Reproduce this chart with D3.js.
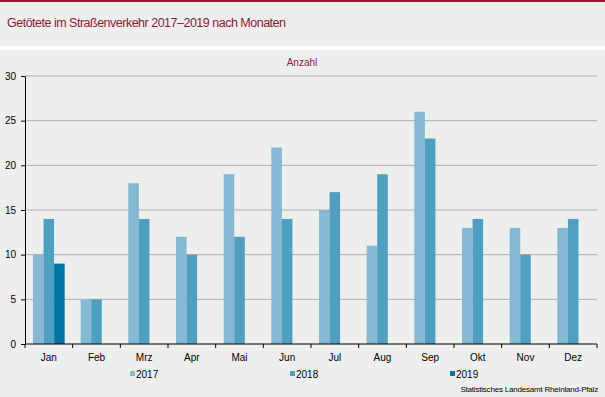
<!DOCTYPE html>
<html>
<head>
<meta charset="utf-8">
<script src="https://cdn.jsdelivr.net/npm/d3@7"></script>
<style>
  body { margin: 0; background: #fff; }
  svg { display: block; font-family: "Liberation Sans", Arial, sans-serif; }
</style>
</head>
<body>
<script>
// chart data
var months = ["Jan", "Feb", "Mrz", "Apr", "Mai", "Jun", "Jul", "Aug", "Sep", "Okt", "Nov", "Dez"];
var years = ["2017", "2018", "2019"];
var values2017 = [10, 5, 18, 12, 19, 22, 15, 11, 26, 13, 13, 13];
var values2018 = [14, 5, 14, 10, 12, 14, 17, 19, 23, 14, 10, 14];
var values2019 = [9, null, null, null, null, null, null, null, null, null, null, null];
var yTicks = [0, 5, 10, 15, 20, 25, 30];

var colors = ["#84b8d3", "#4f9fc1", "#0074a3"];
var series = [values2017, values2018, values2019];

var svgWidth = 605;
var svgHeight = 397;

var margin = { top: 76, right: 8, bottom: 53, left: 25 };
var width = svgWidth - margin.left - margin.right;
var height = svgHeight - margin.top - margin.bottom;

var svg = d3.select("body")
  .append("svg")
  .attr("width", svgWidth)
  .attr("height", svgHeight);

// backgrounds
svg.append("rect").attr("x", 0).attr("y", 0).attr("width", svgWidth).attr("height", 46).attr("fill", "#edeeed");
svg.append("rect").attr("x", 0).attr("y", 0).attr("width", svgWidth).attr("height", 2).attr("fill", "#8b1a32");
svg.append("rect").attr("x", 0).attr("y", 50).attr("width", svgWidth).attr("height", svgHeight - 50).attr("fill", "#edefee");

svg.append("text")
  .attr("x", 7)
  .attr("y", 27)
  .style("font-size", "12.5px")
  .style("letter-spacing", "-0.5px")
  .style("fill", "#8b1a32")
  .text("Getötete im Straßenverkehr 2017–2019 nach Monaten");

svg.append("text")
  .attr("x", 302)
  .attr("y", 66)
  .attr("text-anchor", "middle")
  .style("font-size", "10px")
  .style("fill", "#8b1a42")
  .text("Anzahl");

var chartGroup = svg.append("g")
  .attr("transform", `translate(${margin.left}, ${margin.top})`);

var xBand = d3.scaleBand()
  .domain(months)
  .range([0, width]);

var xInner = d3.scaleBand()
  .domain(years)
  .range([8, xBand.bandwidth() - 8]);

var yLinearScale = d3.scaleLinear()
  .domain([0, 30])
  .range([height, 0]);

// gridlines
chartGroup.selectAll(".grid")
  .data(yTicks.slice(1))
  .enter()
  .append("line")
  .attr("x1", 0)
  .attr("x2", width)
  .attr("y1", d => yLinearScale(d))
  .attr("y2", d => yLinearScale(d))
  .attr("stroke", "#aeaeae")
  .attr("stroke-width", 1);

// bars
series.forEach(function(vals, i) {
  chartGroup.append("g")
    .selectAll("rect")
    .data(vals.map((v, j) => ({ month: months[j], value: v })).filter(d => d.value !== null))
    .enter()
    .append("rect")
    .attr("x", d => xBand(d.month) + xInner(years[i]))
    .attr("y", d => yLinearScale(d.value))
    .attr("width", xInner.bandwidth())
    .attr("height", d => height - yLinearScale(d.value))
    .attr("fill", colors[i]);
});

// axes
var leftAxis = d3.axisLeft(yLinearScale).tickValues(yTicks).tickSize(4).tickSizeOuter(0);
var yAxis = chartGroup.append("g").call(leftAxis);
yAxis.select(".domain").attr("stroke", "#000");
yAxis.selectAll("text").style("font-size", "10px").style("fill", "#000").attr("x", -9);

var xAxisG = chartGroup.append("g")
  .attr("transform", `translate(0, ${height})`);
xAxisG.append("line")
  .attr("x1", 0).attr("x2", width)
  .attr("y1", 0).attr("y2", 0)
  .attr("stroke", "#000");
xAxisG.selectAll(".xtick")
  .data(months.concat(["end"]))
  .enter()
  .append("line")
  .attr("x1", (d, i) => i * xBand.step())
  .attr("x2", (d, i) => i * xBand.step())
  .attr("y1", 0).attr("y2", 4)
  .attr("stroke", "#000");
xAxisG.selectAll(".xlabel")
  .data(months)
  .enter()
  .append("text")
  .attr("x", d => xBand(d) + xBand.bandwidth() / 2)
  .attr("y", 17)
  .attr("text-anchor", "middle")
  .style("font-size", "10px")
  .style("fill", "#000")
  .text(d => d);

// legend
var legendX = [130, 290, 450];
var legend = svg.selectAll(".legend")
  .data(years)
  .enter()
  .append("g")
  .attr("transform", (d, i) => `translate(${legendX[i]}, 371)`);
legend.append("rect")
  .attr("width", 5).attr("height", 5)
  .attr("fill", (d, i) => colors[i]);
legend.append("text")
  .attr("x", 6).attr("y", 7)
  .style("font-size", "10px")
  .style("fill", "#000")
  .text(d => d);

svg.append("text")
  .attr("x", 598)
  .attr("y", 392)
  .attr("text-anchor", "end")
  .style("font-size", "8px")
  .style("fill", "#000")
  .style("letter-spacing", "-0.2px")
  .text("Statistisches Landesamt Rheinland-Pfalz");
</script>
</body>
</html>
